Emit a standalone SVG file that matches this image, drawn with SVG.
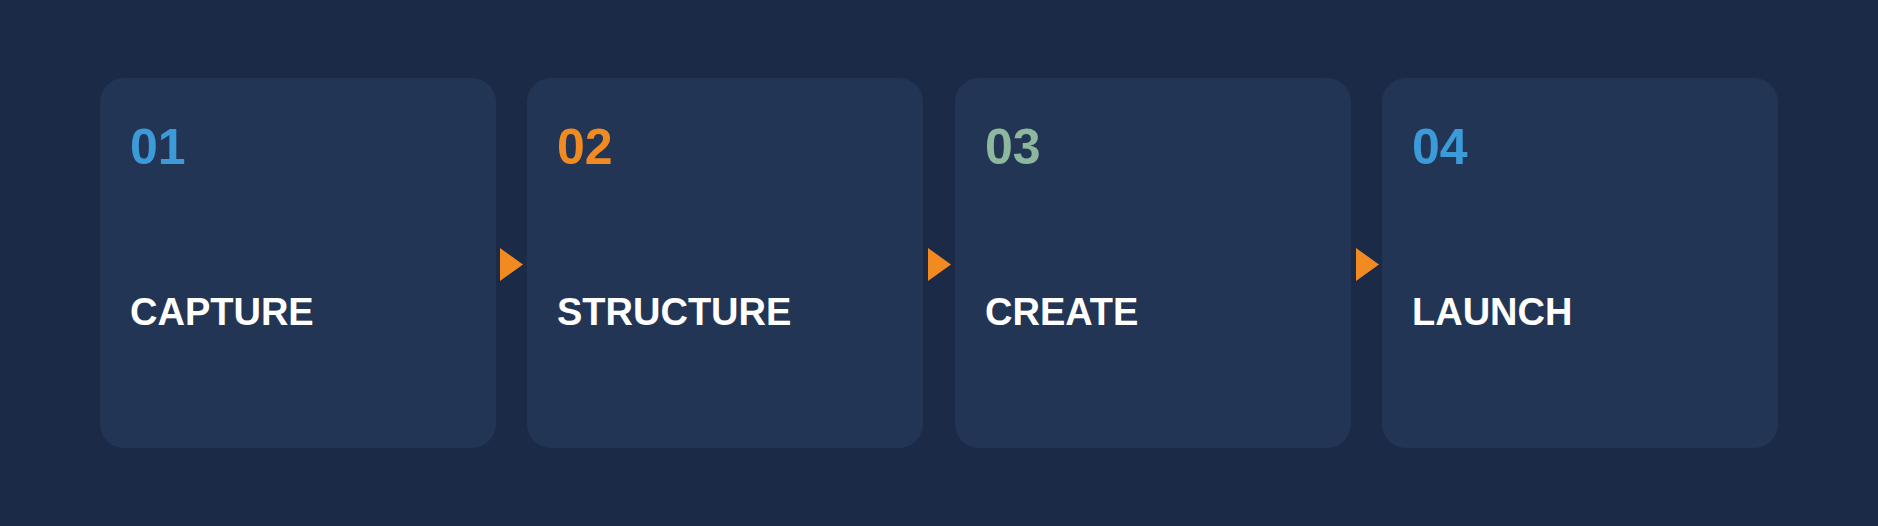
<svg xmlns="http://www.w3.org/2000/svg" width="1878" height="526" viewBox="0 0 1878 526">
<style>
.card{fill:#233554;}
.num{font-family:"Liberation Sans",Arial,sans-serif;font-weight:700;font-size:50px;}
.lbl{font-family:"Liberation Sans",Arial,sans-serif;font-weight:700;font-size:38px;fill:#ffffff;}
.arrow{fill:#f28a22;}
</style>
<rect x="0" y="0" width="1878" height="526" fill="#1b2a47"/>
<g id="node-capture">
<rect class="card" x="100" y="78" width="396" height="370" rx="24"/>
<text class="num" x="130" y="164" fill="#3d9ad9">01</text>
<text class="lbl" x="130" y="325">CAPTURE</text>
</g>
<g id="node-structure">
<rect class="card" x="527" y="78" width="396" height="370" rx="24"/>
<text class="num" x="557" y="164" fill="#f28a22">02</text>
<text class="lbl" x="557" y="325">STRUCTURE</text>
</g>
<g id="node-create">
<rect class="card" x="955" y="78" width="396" height="370" rx="24"/>
<text class="num" x="985" y="164" fill="#8db89e">03</text>
<text class="lbl" x="985" y="325">CREATE</text>
</g>
<g id="node-launch">
<rect class="card" x="1382" y="78" width="396" height="370" rx="24"/>
<text class="num" x="1412" y="164" fill="#3d9ad9">04</text>
<text class="lbl" x="1412" y="325">LAUNCH</text>
</g>
<g id="connectors">
<polygon class="arrow" points="500,248 523,264.5 500,281"/>
<polygon class="arrow" points="928,248 951,264.5 928,281"/>
<polygon class="arrow" points="1356,248 1379,264.5 1356,281"/>
</g>
</svg>
